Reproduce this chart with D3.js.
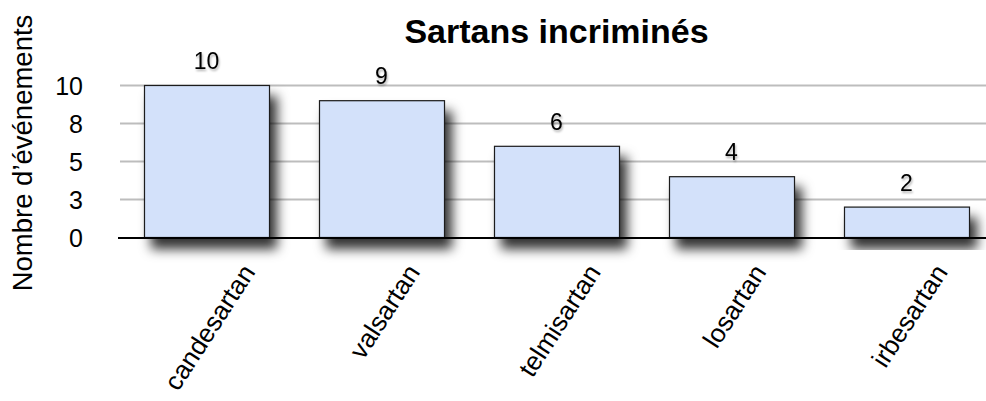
<!DOCTYPE html>
<html><head><meta charset="utf-8">
<script src="https://cdn.jsdelivr.net/npm/d3@7"></script>
<style>
html,body{margin:0;padding:0;background:#fff;}
svg{display:block;font-family:Helvetica,"Liberation Sans",Arial,sans-serif;}
</style></head>
<body>
<svg id="chart" width="986" height="401"></svg>
<script>
const categories = ["candesartan", "valsartan", "telmisartan", "losartan", "irbesartan"];
const values = [10, 9, 6, 4, 2];
const tickValues = [0, 2.5, 5, 7.5, 10];
const tickLabels = ["0", "3", "5", "8", "10"];
const title = "Sartans incriminés";
const yTitle = "Nombre d’événements";

const svg = d3.select("#chart");
const W = 986, H = 401;
const y0 = 237, yTop = 85;

const x = d3.scaleBand().domain(categories).range([119, 994])
  .paddingInner(50/175).paddingOuter(25/175);
const y = d3.scaleLinear().domain([0, 10]).range([y0, yTop]);

const defs = svg.append("defs");
const f = defs.append("filter").attr("id","shadow").attr("x","-30%").attr("y","-30%").attr("width","160%").attr("height","170%");
f.append("feDropShadow").attr("dx",7).attr("dy",11).attr("stdDeviation",6)
  .attr("flood-color","#000").attr("flood-opacity",0.8);
const ft = defs.append("filter").attr("id","tshadow").attr("x","-30%").attr("y","-30%").attr("width","160%").attr("height","160%");
ft.append("feDropShadow").attr("dx",1).attr("dy",2).attr("stdDeviation",1.2)
  .attr("flood-color","#000").attr("flood-opacity",0.3);

// gridlines
const grid = d3.axisLeft(y).tickValues(tickValues.filter(v=>v>0)).tickSize(-(W - 120)).tickFormat("");
svg.append("g").attr("transform","translate(120,0)").call(grid)
  .call(g=>g.select(".domain").remove())
  .call(g=>g.selectAll("line").attr("stroke","#bdbdbd").attr("stroke-width",2));

// tick labels
const yAxis = d3.axisLeft(y).tickValues(tickValues).tickSize(0).tickPadding(0)
  .tickFormat((d,i)=>tickLabels[i]);
svg.append("g").attr("transform","translate(83,0)").call(yAxis)
  .call(g=>g.select(".domain").remove())
  .call(g=>g.selectAll("text").attr("font-size",25).attr("fill","#000")
    .attr("font-family",'Helvetica,"Liberation Sans",Arial,sans-serif').attr("dy","0.36em"));

// bars
svg.append("g").selectAll("rect").data(categories).join("rect")
  .attr("x", d=>x(d)+0.5)
  .attr("y", (d,i)=>y(values[i])+0.5)
  .attr("width", x.bandwidth())
  .attr("height", (d,i)=>y0 - y(values[i]))
  .attr("fill","#d3e1fa").attr("stroke","#1a1a1a").attr("stroke-width",1.2)
  .attr("filter","url(#shadow)");

// baseline axis
svg.append("line").attr("x1",118).attr("x2",W).attr("y1",y0+1).attr("y2",y0+1)
  .attr("stroke","#000").attr("stroke-width",2.2);

// value labels
svg.append("g").selectAll("text").data(categories).join("text")
  .attr("x", d=>x(d)+x.bandwidth()/2)
  .attr("y", (d,i)=>y(values[i]) - 16)
  .attr("text-anchor","middle").attr("font-size",23).attr("fill","#000")
  .attr("filter","url(#tshadow)")
  .text((d,i)=>values[i]);

// category labels rotated
const ang = 57, rad = ang*Math.PI/180;
const cat = svg.append("g").selectAll("text").data(categories).join("text")
  .attr("font-size",26).attr("fill","#000").attr("text-anchor","middle")
  .attr("dominant-baseline","central")
  .text(d=>d);
cat.each(function(d){
  const L = this.getComputedTextLength();
  const h = 26*0.75;
  const bh = L*Math.sin(rad) + h*Math.cos(rad);
  const cx = x(d) + x.bandwidth()/2 + 3;
  const cy = 262 + bh/2;
  d3.select(this).attr("transform",`translate(${cx},${cy}) rotate(${-ang})`);
});

// title
svg.append("text").attr("x",(119+994)/2).attr("y",43).attr("text-anchor","middle")
  .attr("font-size",34).attr("font-weight","bold").attr("fill","#000").text(title);

// y title
svg.append("text").attr("transform",`translate(32,153) rotate(-90)`)
  .attr("text-anchor","middle").attr("font-size",27.5).attr("fill","#000").text(yTitle);
</script>
</body></html>
